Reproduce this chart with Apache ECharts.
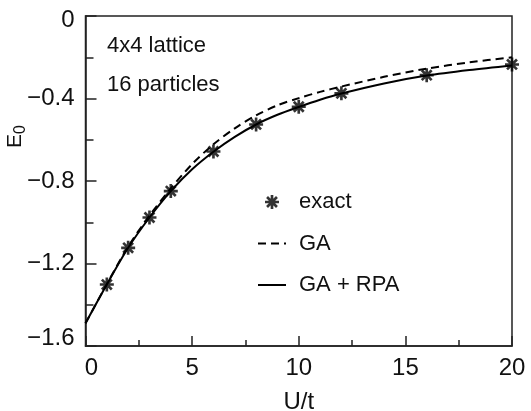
<!DOCTYPE html>
<html>
<head>
<meta charset="utf-8">
<script src="https://cdn.jsdelivr.net/npm/echarts@6/dist/echarts.min.js"></script>
<style>
  html, body { margin: 0; padding: 0; background: #fff; }
  #chart { width: 531px; height: 411px; }
</style>
</head>
<body>
<div id="chart"></div>
<script>
// Ground-state energy E0 versus U/t, 4x4 lattice, 16 particles
const exactU = [1, 2, 3, 4, 6, 8, 10, 12, 16, 20];
const exactE = [-1.302, -1.124, -0.977, -0.849, -0.657, -0.526, -0.440, -0.375, -0.287, -0.235];

const gaU = [0, 1, 2, 3, 4, 5, 6, 7, 8, 9, 10, 11, 12, 14, 16, 18, 20];
const gaE = [-1.49, -1.30, -1.118, -0.968, -0.836, -0.718, -0.622, -0.545, -0.482, -0.433, -0.398, -0.368, -0.342, -0.295, -0.255, -0.225, -0.200];

const rpaU = [0, 1, 2, 3, 4, 5, 6, 7, 8, 9, 10, 11, 12, 14, 16, 18, 20];
const rpaE = [-1.49, -1.302, -1.124, -0.977, -0.849, -0.743, -0.658, -0.586, -0.526, -0.479, -0.441, -0.406, -0.376, -0.327, -0.289, -0.262, -0.240];

const xTicks = [0, 5, 10, 15, 20];
const yTicks = [0, -0.4, -0.8, -1.2, -1.6];

const FONT = '"Liberation Sans", Arial, Helvetica, sans-serif';
const INK = '#111';
const AXIS = '#222';

// Eight-armed asterisk used as the marker for exact results
function asteriskPath(halfWidth) {
  let d = '';
  [0, 45, 90, 135].forEach(function (deg) {
    const r = deg * Math.PI / 180;
    const cx = Math.cos(r), cy = Math.sin(r);
    const nx = -cy * halfWidth, ny = cx * halfWidth;
    const p = [
      [cx + nx, cy + ny], [cx - nx, cy - ny],
      [-cx - nx, -cy - ny], [-cx + nx, -cy + ny]
    ];
    d += 'M' + p.map(function (q) { return q[0].toFixed(3) + ' ' + q[1].toFixed(3); }).join(' L') + ' Z ';
  });
  return 'path://' + d;
}
const STAR = asteriskPath(0.19);

function pairs(xs, ys) { return xs.map(function (x, i) { return [x, ys[i]]; }); }

function yLabel(v) {
  if (Math.abs(v) < 1e-9) return '{top|0}';
  const s = '\u2212' + Math.abs(v).toFixed(1);
  if (Math.abs(v - yTicks[yTicks.length - 1]) < 1e-9) return '{low|' + s + '}';
  return s;
}

const chart = echarts.init(document.getElementById('chart'), null, { renderer: 'canvas' });

chart.setOption({
  animation: false,
  backgroundColor: '#fff',
  grid: {
    left: 85.5, right: 19, top: 16, bottom: 65,
    outerBoundsMode: 'none', containLabel: false,
    show: true, borderColor: AXIS, borderWidth: 1.5, backgroundColor: 'transparent'
  },
  xAxis: {
    type: 'value', min: xTicks[0], max: xTicks[xTicks.length - 1], interval: 5,
    name: 'U/t', nameLocation: 'middle', nameGap: 44,
    nameTextStyle: { fontFamily: FONT, fontSize: 24, color: INK },
    axisLine: { onZero: false, lineStyle: { color: AXIS, width: 1.5 } },
    axisTick: { inside: true, length: 10, lineStyle: { color: AXIS, width: 1.5 } },
    minorTick: { show: true, splitNumber: 2, length: 6, lineStyle: { color: AXIS, width: 1.5 } },
    splitLine: { show: false },
    axisLabel: {
      fontFamily: FONT, fontSize: 24, color: INK, margin: 10,
      formatter: function (v) { return v === 0 ? '{zero|0}' : String(v); },
      rich: { zero: { fontFamily: FONT, fontSize: 24, color: INK, padding: [0, 0, 0, 12] } }
    }
  },
  yAxis: {
    type: 'value', min: yTicks[yTicks.length - 1], max: yTicks[0], interval: 0.4,
    axisLine: { onZero: false, lineStyle: { color: AXIS, width: 1.5 } },
    axisTick: { inside: true, length: 11, lineStyle: { color: AXIS, width: 1.5 } },
    minorTick: { show: true, splitNumber: 2, length: 8, lineStyle: { color: AXIS, width: 1.5 } },
    splitLine: { show: false },
    axisLabel: {
      fontFamily: FONT, fontSize: 24, color: INK, margin: 11,
      formatter: yLabel,
      rich: {
        top: { fontFamily: FONT, fontSize: 24, color: INK, padding: [9, 0, 0, 0] },
        low: { fontFamily: FONT, fontSize: 24, color: INK, padding: [0, 0, 15, 0] }
      }
    }
  },
  legend: {
    orient: 'vertical', left: 257, top: 191, padding: 0,
    itemWidth: 28, itemHeight: 14, itemGap: 19.5,
    data: [
      { name: 'exact' },
      { name: 'GA', itemStyle: { opacity: 0 } },
      { name: 'GA + RPA', itemStyle: { opacity: 0 } }
    ],
    textStyle: { fontFamily: FONT, fontSize: 22, color: INK, lineHeight: 22, padding: [0, 0, 0, 8] },
    selectedMode: false
  },
  graphic: [
    { type: 'text', left: 107, top: 35, style: { text: '4x4 lattice', font: '22px ' + FONT, fill: INK } },
    { type: 'text', left: 107, top: 74, style: { text: '16 particles', font: '22px ' + FONT, fill: INK } },
    // vertical axis title E with subscript 0, reading bottom to top
    {
      type: 'text', x: 17.5, y: 136.5, rotation: Math.PI / 2,
      style: {
        text: '{e|E}{s|0}', align: 'center', verticalAlign: 'middle',
        rich: {
          e: { fontFamily: FONT, fontSize: 21, fill: INK, color: INK, padding: [0, 0, 4, 0] },
          s: { fontFamily: FONT, fontSize: 16, fill: INK, color: INK, padding: [7, 0, 0, 0] }
        }
      }
    }
  ],
  series: [
    {
      name: 'exact', type: 'scatter', data: pairs(exactU, exactE),
      symbol: STAR, symbolSize: 14,
      itemStyle: { color: '#000' }, z: 5
    },
    {
      name: 'GA', type: 'line', data: pairs(gaU, gaE),
      showSymbol: false, symbol: 'none', smooth: 0.3,
      lineStyle: { color: '#000', width: 2, type: [8, 5] },
      itemStyle: { color: '#000' }
    },
    {
      name: 'GA + RPA', type: 'line', data: pairs(rpaU, rpaE),
      showSymbol: false, symbol: 'none', smooth: 0.3,
      lineStyle: { color: '#000', width: 2 },
      itemStyle: { color: '#000' }
    }
  ]
});
</script>
</body>
</html>
